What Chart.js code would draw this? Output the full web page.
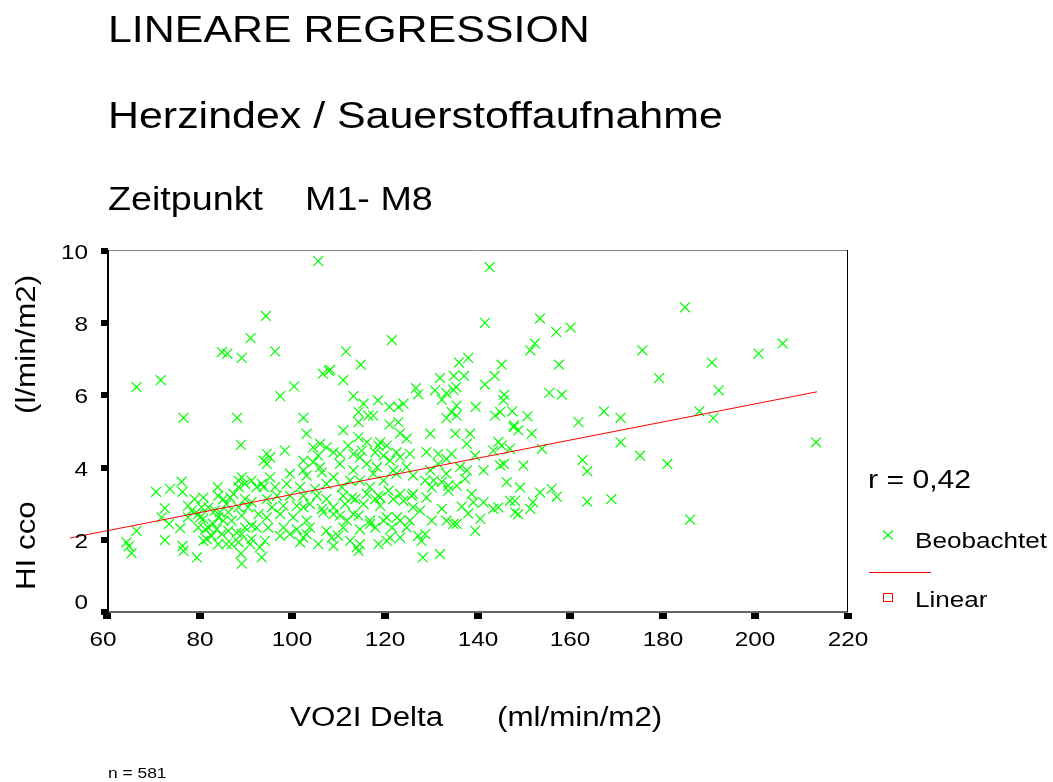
<!DOCTYPE html>
<html lang="de">
<head>
<meta charset="utf-8">
<title>Lineare Regression</title>
<script src="https://cdn.jsdelivr.net/npm/chart.js@4"></script>
<style>
  html, body { margin: 0; padding: 0; background: #fff; }
  #wrap { position: relative; width: 1053px; height: 782px; overflow: hidden; }
  #chart { position: absolute; left: 0; top: 0; }
  .txt {
    position: absolute; white-space: pre; color: #000; line-height: 1;
    font-family: "Liberation Sans", Arial, sans-serif;
    transform-origin: 0 0; transform: scaleX(1.16);
  }
  .rot { transform: rotate(-90deg) scaleX(1.16); }
</style>
</head>
<body>
<div id="wrap">
  <canvas id="chart" width="1053" height="782"></canvas>

  <div class="txt" style="left:108px; top:11px; font-size:37px;">LINEARE REGRESSION</div>
  <div class="txt" style="left:108px; top:97px; font-size:37px;">Herzindex / Sauerstoffaufnahme</div>
  <div class="txt" style="left:108px; top:183px; font-size:32.5px;">Zeitpunkt</div>
  <div class="txt" style="left:305px; top:183px; font-size:32.5px;">M1- M8</div>

  <div class="txt rot" style="left:13px; top:590px; font-size:27px;">HI cco</div>
  <div class="txt rot" style="left:13px; top:414px; font-size:27px;">(l/min/m2)</div>

  <div class="txt" style="left:290px; top:704px; font-size:27px;">VO2I Delta</div>
  <div class="txt" style="left:497px; top:704px; font-size:27px;">(ml/min/m2)</div>

  <div class="txt" style="left:868px; top:466px; font-size:26px;">r = 0,42</div>
  <div class="txt" style="left:915px; top:530px; font-size:22.5px;">Beobachtet</div>
  <div class="txt" style="left:915px; top:589px; font-size:22.5px;">Linear</div>

  <div class="txt" style="left:108px; top:765px; font-size:15px;">n = 581</div>
</div>

<script>
// VO2I Delta (ml/min/m2) and HI cco (l/min/m2), one entry per patient and time point
const vo2iDelta = [
  105.6, 142.6, 184.8, 94.3, 141.6, 153.5, 160.1, 157.0, 91.0, 84.8,
  86.0, 89.1, 96.3, 121.5, 175.6, 151.4, 152.4, 200.7, 205.9, 190.6,
  111.6, 66.4, 71.6, 76.5, 88.1, 97.4, 100.4, 102.4, 106.6, 108.2,
  107.9, 111.0, 114.8, 138.0, 136.0, 145.2, 157.6, 143.7, 141.6, 131.9,
  134.9, 137.1, 135.4, 126.7, 127.2, 130.8, 133.3, 134.8, 155.5, 158.2,
  145.8, 145.6, 113.2, 115.4, 118.5, 121.0, 122.9, 124.0, 132.3, 139.6,
  114.3, 116.4, 117.5, 134.4, 135.5, 133.3, 143.8, 144.9, 147.5, 150.8,
  161.8, 114.3, 121.0, 122.9, 147.9, 179.2, 192.1, 167.3, 170.9, 187.9,
  190.9, 170.9, 175.1, 181.0, 213.1, 163.7, 162.7, 163.7, 168.9, 185.9,
  145.7, 144.9, 146.3, 149.2, 153.5, 156.0, 157.1, 152.0, 151.4, 148.1,
  147.0, 148.1, 148.8, 144.5, 143.4, 141.3, 139.1, 140.6, 139.5, 132.3,
  134.8, 135.5, 133.3, 131.9, 128.2, 127.9, 127.2, 129.8, 135.2, 138.4,
  137.7, 134.4, 131.5, 133.3, 141.3, 137.7, 136.2, 135.5, 133.7, 130.5,
  130.1, 147.0, 148.8, 151.7, 153.9, 147.8, 145.2, 143.4, 135.5, 144.5,
  139.5, 149.9, 131.5, 137.3, 128.7, 132.3, 133.7, 138.7, 136.6, 138.0,
  130.1, 128.7, 88.9, 93.8, 76.1, 76.3, 70.6, 73.6, 83.9, 72.5,
  71.8, 73.4, 75.8, 66.4, 64.2, 64.7, 65.3, 72.5, 76.3, 76.5,
  79.4, 80.8, 81.5, 77.5, 78.3, 78.9, 80.8, 77.5, 80.1, 79.7,
  81.2, 83.3, 84.0, 84.4, 85.1, 82.9, 83.7, 82.6, 84.8, 86.2,
  84.0, 85.8, 86.9, 88.4, 88.0, 89.1, 88.9, 89.1, 90.9, 91.2,
  89.8, 92.3, 93.4, 84.0, 85.1, 85.8, 86.6, 87.3, 88.4, 89.1,
  89.8, 88.4, 91.2, 92.3, 93.4, 89.8, 91.2, 88.4, 90.5, 89.1,
  92.7, 86.9, 86.2, 80.4, 81.9, 79.7, 80.8, 81.9, 91.2, 93.0,
  94.5, 95.2, 124.7, 103.1, 111.0, 114.3, 116.1, 119.0, 98.4, 104.5,
  106.0, 107.4, 108.9, 105.6, 112.1, 113.2, 114.6, 117.9, 119.7, 122.5,
  121.1, 102.4, 94.5, 104.5, 110.3, 116.1, 124.7, 126.1, 95.2, 99.5,
  103.1, 106.4, 108.9, 113.2, 112.5, 114.6, 117.5, 119.7, 122.5, 93.8,
  96.3, 98.8, 101.7, 104.9, 107.4, 110.7, 116.8, 118.6, 120.8, 123.3,
  125.8, 94.5, 96.7, 99.5, 102.4, 105.3, 107.4, 111.0, 113.6, 95.6,
  98.1, 101.0, 103.8, 106.4, 108.9, 111.4, 115.4, 117.9, 119.0, 121.8,
  124.0, 126.1, 94.5, 97.4, 100.2, 103.1, 106.7, 110.3, 113.2, 116.8,
  120.4, 123.3, 94.8, 98.1, 101.0, 103.8, 107.4, 111.0, 114.6, 117.9,
  121.5, 124.7, 94.1, 97.4, 99.5, 102.4, 105.6, 108.5, 109.9, 112.5,
  114.6, 118.6, 120.4, 123.3, 101.7, 114.3,
  123.3, 115.0, 118.6, 120.4, 125.4, 129.0, 110.3, 123.3, 102.4, 106.0,
  118.3, 121.8, 129.8, 133.3, 112.9, 116.1, 119.0, 126.1, 129.0, 102.4,
  108.9, 111.8, 114.3, 116.8, 119.7, 122.6, 125.4, 127.6, 103.1, 108.9,
  113.9, 121.1
];
const hiCco = [
  9.72, 9.55, 8.44, 8.20, 8.01, 8.13, 7.88, 7.76, 7.59, 7.20,
  7.16, 7.04, 7.22, 7.53, 7.25, 7.25, 7.44, 7.16, 7.44, 6.91,
  7.22, 6.23, 6.42, 5.38, 5.38, 5.98, 6.25, 5.38, 6.60, 6.71,
  6.68, 6.42, 6.85, 7.04, 6.91, 6.85, 6.85, 6.54, 6.30, 6.48,
  6.54, 6.54, 6.23, 6.20, 6.03, 6.14, 6.06, 6.15, 6.07, 6.02,
  6.02, 5.86, 5.98, 5.77, 5.86, 5.68, 5.68, 5.77, 5.88, 5.68,
  5.54, 5.44, 5.44, 5.54, 5.44, 5.37, 5.44, 5.54, 5.56, 5.42,
  5.26, 5.26, 5.19, 5.26, 5.17, 6.48, 6.14, 5.56, 5.38, 5.56,
  5.37, 4.70, 4.33, 4.10, 4.70, 3.90, 4.21, 3.06, 3.13, 2.56,
  4.10, 4.06, 3.60, 3.45, 3.31, 3.41, 3.19, 3.04, 2.86, 3.08,
  3.08, 2.76, 2.71, 2.90, 2.86, 3.04, 3.04, 2.58, 2.25, 2.86,
  2.44, 2.44, 2.53, 1.60, 1.51, 1.97, 2.11, 4.94, 4.94, 4.94,
  4.66, 4.38, 4.38, 4.24, 3.92, 3.92, 4.01, 3.50, 3.50, 3.64,
  3.45, 4.52, 5.03, 4.94, 4.52, 5.12, 4.61, 4.47, 5.72, 4.71,
  4.33, 4.06, 4.10, 3.69, 3.64, 3.60, 3.36, 3.27, 2.92, 2.73,
  2.53, 2.16, 4.63, 4.19, 3.61, 3.33, 3.33, 3.41, 3.46, 2.87,
  2.62, 2.44, 2.32, 2.25, 1.93, 1.82, 1.63, 1.99, 1.83, 1.69,
  1.51, 1.97, 2.02, 2.94, 2.81, 3.13, 3.17, 2.62, 2.62, 2.34,
  2.29, 2.81, 2.62, 2.76, 2.53, 2.44, 2.29, 2.11, 2.16, 2.25,
  1.88, 1.88, 1.88, 1.93, 2.20, 2.16, 1.62, 1.34, 1.88, 2.39,
  2.34, 2.34, 1.51, 3.22, 3.13, 2.99, 3.17, 3.27, 3.64, 3.73,
  3.55, 3.46, 3.64, 3.46, 3.55, 3.13, 3.04, 2.90, 2.90, 2.67,
  2.71, 2.53, 2.76, 2.90, 2.90, 2.71, 2.58, 2.34, 2.02, 1.79,
  4.38, 4.28, 4.80, 4.94, 5.03, 4.84, 4.70, 4.70, 4.47, 4.56,
  4.66, 4.56, 4.42, 4.33, 4.61, 4.38, 4.28, 4.42, 4.33, 4.42,
  4.19, 4.19, 4.10, 4.15, 4.10, 4.10, 4.01, 3.78, 3.73, 3.83,
  3.78, 3.87, 3.73, 3.92, 3.64, 3.64, 3.83, 3.64, 3.83, 3.46,
  3.46, 3.55, 3.46, 3.41, 3.55, 3.46, 3.46, 3.22, 3.36, 3.27,
  3.22, 3.13, 3.22, 3.22, 3.22, 3.22, 3.13, 3.22, 3.13, 2.90,
  2.94, 2.94, 2.99, 2.86, 2.90, 2.99, 2.99, 3.13, 2.94, 3.13,
  3.08, 2.90, 2.62, 2.71, 2.62, 2.53, 2.76, 2.67, 2.71, 2.53,
  2.62, 2.53, 2.34, 2.34, 2.29, 2.34, 2.25, 2.34, 2.29, 2.34,
  2.34, 2.34, 1.97, 2.11, 2.16, 2.06, 1.88, 2.06, 2.11, 1.97,
  1.88, 1.88, 1.97, 2.06, 1.93, 1.69,
  4.95, 4.47, 4.61, 4.61, 4.38, 4.43, 4.38, 4.29, 3.92, 4.01,
  4.01, 3.92, 3.92, 3.83, 3.17, 3.27, 3.17, 3.27, 3.17, 2.90,
  2.71, 2.53, 2.67, 2.44, 2.53, 2.62, 2.53, 2.81, 2.16, 1.83,
  1.79, 2.06
];

// fitted regression line, from smallest to largest VO2I Delta
const fitX = [52.0, 213.3];
const fitY = [2.05, 6.10];

// axis ranges and tick steps
const xRange = [60, 220];
const yRange = [0, 10];
const xStep = 20;
const yStep = 2;

const GREEN = '#00ff00';
const RED = '#ff0000';
const STRETCH = 1.16;
const tickFont = '21px "Liberation Sans", Arial, sans-serif';

// frame, square tick marks, tick labels and legend symbols
const spssFrame = {
  id: 'spssFrame',
  afterDraw(chart) {
    const ctx = chart.ctx;
    const a = chart.chartArea;
    const xs = chart.scales.x;
    const ys = chart.scales.y;
    ctx.save();

    ctx.lineWidth = 1;
    ctx.strokeStyle = '#8a8a8a';
    ctx.beginPath();
    ctx.moveTo(a.left, a.top - 0.5);
    ctx.lineTo(a.right, a.top - 0.5);
    ctx.stroke();
    ctx.strokeStyle = '#000';
    ctx.beginPath();
    ctx.moveTo(a.right - 0.5, a.top - 1);
    ctx.lineTo(a.right - 0.5, a.bottom);
    ctx.stroke();

    ctx.lineWidth = 2;
    ctx.strokeStyle = '#000';
    ctx.beginPath();
    ctx.moveTo(a.left + 1, a.top - 1);
    ctx.lineTo(a.left + 1, a.bottom + 1);
    ctx.stroke();
    ctx.strokeStyle = '#333';
    ctx.lineWidth = 1.5;
    ctx.beginPath();
    ctx.moveTo(a.left, a.bottom);
    ctx.lineTo(a.right, a.bottom);
    ctx.stroke();

    ctx.fillStyle = '#000';
    ctx.font = tickFont;
    ys.ticks.forEach(t => {
      const py = Math.round(ys.getPixelForValue(t.value));
      ctx.fillRect(a.left - 6, py - 3, 7, 6);
      const base = t.value === yRange[0] ? py - 3 : py + 7.5;
      ctx.save();
      ctx.translate(a.left - 19, base);
      ctx.scale(STRETCH, 1);
      ctx.textAlign = 'right';
      ctx.fillText(String(t.value), 0, 0);
      ctx.restore();
    });
    xs.ticks.forEach(t => {
      const px = Math.round(xs.getPixelForValue(t.value));
      ctx.fillRect(px - 4, a.bottom + 1, 8, 6);
      ctx.save();
      ctx.translate(t.value === xRange[0] ? px - 4 : px, a.bottom + 34);
      ctx.scale(STRETCH, 1);
      ctx.textAlign = 'center';
      ctx.fillText(String(t.value), 0, 0);
      ctx.restore();
    });

    // legend: observed cross, fit line, fit square
    ctx.lineWidth = 1.2;
    ctx.strokeStyle = GREEN;
    ctx.beginPath();
    ctx.moveTo(883, 530.5); ctx.lineTo(893, 539.5);
    ctx.moveTo(893, 530.5); ctx.lineTo(883, 539.5);
    ctx.stroke();
    ctx.lineWidth = 1;
    ctx.strokeStyle = RED;
    ctx.beginPath();
    ctx.moveTo(869, 572.5); ctx.lineTo(931, 572.5);
    ctx.stroke();
    ctx.strokeRect(883.5, 593.5, 9, 8);

    ctx.restore();
  }
};

const ctx = document.getElementById('chart').getContext('2d');
const chart = new Chart(ctx, {
  type: 'scatter',
  data: {
    datasets: [
      {
        label: 'Linear',
        data: fitX.map((x, i) => ({ x: x, y: fitY[i] })),
        showLine: true,
        borderColor: RED,
        borderWidth: 1,
        pointRadius: 0,
        clip: false,
        order: 0
      },
      {
        label: 'Beobachtet',
        data: vo2iDelta.map((x, i) => ({ x: x, y: hiCco[i] })),
        pointStyle: 'crossRot',
        pointRadius: 7,
        borderColor: GREEN,
        backgroundColor: GREEN,
        borderWidth: 1.2,
        order: 1
      }
    ]
  },
  options: {
    responsive: false,
    animation: false,
    events: [],
    layout: { padding: { left: 0, top: 251, right: 205, bottom: 160 } },
    plugins: {
      legend: { display: false },
      tooltip: { enabled: false }
    },
    scales: {
      x: {
        type: 'linear',
        min: xRange[0],
        max: xRange[1],
        ticks: { display: false, stepSize: xStep },
        grid: { display: false },
        border: { display: false },
        afterFit(s) { s.height = 10; }
      },
      y: {
        type: 'linear',
        min: yRange[0],
        max: yRange[1],
        ticks: { display: false, stepSize: yStep },
        grid: { display: false },
        border: { display: false },
        afterFit(s) { s.width = 107; }
      }
    }
  },
  plugins: [spssFrame]
});
</script>
</body>
</html>
